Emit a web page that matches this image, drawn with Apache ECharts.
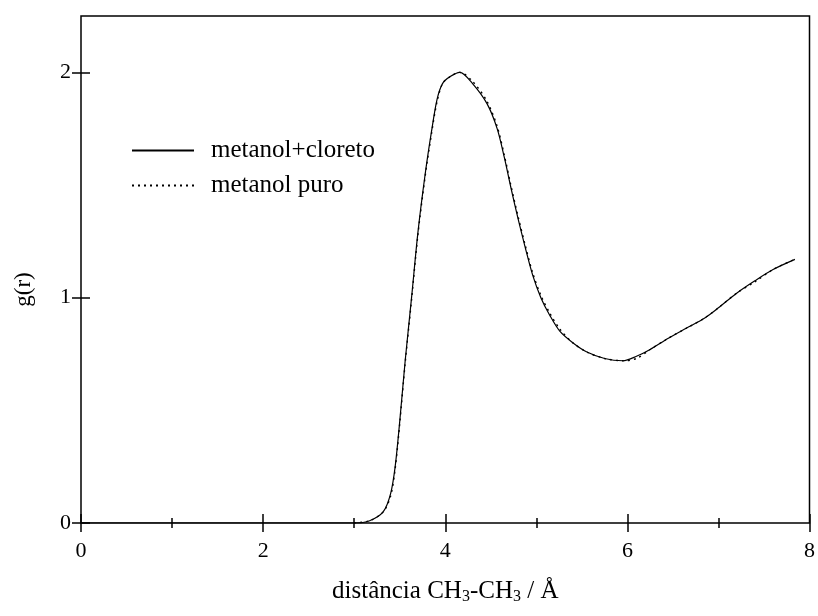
<!DOCTYPE html>
<html>
<head>
<meta charset="utf-8">
<script src="https://cdn.jsdelivr.net/npm/echarts@6/dist/echarts.min.js"></script>
<style>
  html, body { margin: 0; padding: 0; background: #fff; }
  #chart { width: 818px; height: 616px; }
</style>
</head>
<body>
<div id="chart"></div>
<script>
// distância r (Å) e g(r)
const rCloreto = [0, 3.0, 3.17, 3.32, 3.40, 3.45, 3.50, 3.56, 3.63, 3.70, 3.78, 3.85, 3.91, 3.97, 4.05, 4.16,
  4.30, 4.46, 4.57, 4.65, 4.72, 4.80, 4.88, 4.96, 5.05, 5.15, 5.26, 5.40, 5.55, 5.75, 5.95,
  6.10, 6.25, 6.45, 6.65, 6.85, 7.00, 7.20, 7.40, 7.60, 7.84];
const gCloreto = [0, 0, 0.01, 0.05, 0.13, 0.25, 0.45, 0.72, 1.00, 1.29, 1.55, 1.74, 1.88, 1.95, 1.98, 2.00,
  1.95, 1.86, 1.75, 1.62, 1.49, 1.35, 1.22, 1.10, 1.00, 0.92, 0.85, 0.80, 0.76, 0.73, 0.72,
  0.74, 0.77, 0.82, 0.865, 0.91, 0.955, 1.02, 1.075, 1.125, 1.17];

const rPuro = [3.0, 3.17, 3.32, 3.40, 3.45, 3.50, 3.56, 3.63, 3.70, 3.78, 3.85, 3.91, 3.97, 4.05, 4.16,
  4.30, 4.46, 4.57, 4.65, 4.72, 4.80, 4.88, 4.96, 5.05, 5.15, 5.26, 5.40, 5.55, 5.75, 5.95,
  6.10, 6.25, 6.45, 6.65, 6.85, 7.00, 7.20, 7.40, 7.60, 7.84];
const gPuro = [0, 0.01, 0.05, 0.12, 0.24, 0.44, 0.71, 0.99, 1.28, 1.54, 1.73, 1.87, 1.95, 1.98, 2.00,
  1.96, 1.87, 1.76, 1.63, 1.50, 1.36, 1.23, 1.11, 1.01, 0.93, 0.86, 0.80, 0.76, 0.73, 0.72,
  0.73, 0.77, 0.82, 0.865, 0.91, 0.955, 1.02, 1.07, 1.125, 1.17];

const xTicks = [0, 2, 4, 6, 8];
const yTicks = [0, 1, 2];

const font = 'Liberation Serif';
const chart = echarts.init(document.getElementById('chart'));

const pair = (xs, ys) => xs.map((x, i) => [x, ys[i]]);
const tickStyle = { color: '#000', width: 1.5 };

chart.setOption({
  backgroundColor: '#fff',
  animation: false,
  textStyle: { fontFamily: font, color: '#000' },
  grid: {
    left: 81, right: 8, top: 16, bottom: 93,
    show: true, borderColor: '#000', borderWidth: 1.5
  },
  legend: {
    orient: 'vertical',
    left: 126, top: 133,
    itemWidth: 62, itemHeight: 14, itemGap: 10,
    itemStyle: { opacity: 0 },
    textStyle: { fontFamily: font, fontSize: 25, color: '#000', padding: [0, 0, 0, 12] },
    data: ['metanol+cloreto', 'metanol puro']
  },
  xAxis: [
    {
      type: 'value', min: 0, max: 8, interval: 2,
      axisLine: { show: false },
      axisTick: { inside: true, length: 9, lineStyle: tickStyle },
      minorTick: { show: true, splitNumber: 2, length: 5, lineStyle: tickStyle },
      splitLine: { show: false },
      axisLabel: {
        fontFamily: font, fontSize: 22, color: '#000', margin: 17,
        formatter: v => xTicks.includes(v) ? String(v) : ''
      },
      name: '{b|distância CH}{s|3}{b|-CH}{s|3}{b| / Å}',
      nameLocation: 'middle', nameGap: 54,
      nameTextStyle: {
        fontFamily: font, fontSize: 25, color: '#000',
        rich: {
          b: { fontFamily: font, fontSize: 25, color: '#000', lineHeight: 28 },
          s: { fontFamily: font, fontSize: 16, color: '#000', lineHeight: 17, verticalAlign: 'bottom' }
        }
      }
    },
    {
      type: 'value', min: 0, max: 8, interval: 2, position: 'top',
      axisLine: { show: false },
      axisTick: { inside: true, length: 9, lineStyle: tickStyle },
      minorTick: { show: true, splitNumber: 2, length: 5, lineStyle: tickStyle },
      splitLine: { show: false },
      axisLabel: { show: false }
    }
  ],
  yAxis: [
    {
      type: 'value', min: 0, max: 2.25, interval: 1,
      axisLine: { show: false },
      axisTick: { inside: true, length: 9, lineStyle: tickStyle, customValues: yTicks },
      splitLine: { show: false },
      axisLabel: {
        fontFamily: font, fontSize: 22, color: '#000', margin: 10,
        customValues: yTicks
      },
      name: 'g(r)',
      nameLocation: 'middle', nameGap: 46, nameRotate: 90,
      nameTextStyle: { fontFamily: font, fontSize: 23, color: '#000', padding: [0, 0, 0, -40] }
    },
    {
      type: 'value', min: 0, max: 2.25, interval: 1, position: 'right',
      axisLine: { show: false },
      axisTick: { inside: true, length: 9, lineStyle: tickStyle, customValues: yTicks },
      splitLine: { show: false },
      axisLabel: { show: false }
    }
  ],
  series: [
    {
      name: 'metanol+cloreto',
      type: 'line',
      data: pair(rCloreto, gCloreto),
      symbol: 'none',
      smooth: 0.3,
      color: '#000',
      lineStyle: { color: '#000', width: 1.2, type: 'solid' }
    },
    {
      name: 'metanol puro',
      type: 'line',
      data: pair(rPuro, gPuro),
      symbol: 'none',
      smooth: 0.3,
      color: '#000',
      lineStyle: { color: '#000', width: 1.4, type: [2, 4] }
    }
  ]
});
</script>
</body>
</html>
